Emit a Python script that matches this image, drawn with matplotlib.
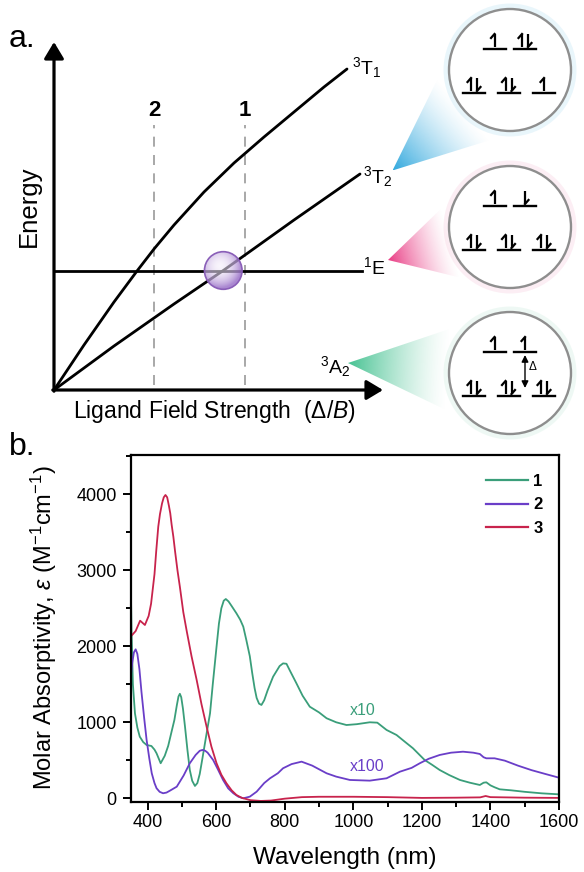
import numpy as np
import matplotlib
matplotlib.use('Agg')
import matplotlib.pyplot as plt
from matplotlib.patches import Circle, Polygon
from matplotlib.ticker import MultipleLocator
from matplotlib.colors import to_rgb

plt.rcParams['font.family'] = ['Liberation Sans', 'DejaVu Sans']
plt.rcParams['mathtext.fontset'] = 'custom'
plt.rcParams['mathtext.rm'] = 'Liberation Sans'
plt.rcParams['mathtext.it'] = 'Liberation Sans:italic'
plt.rcParams['mathtext.bf'] = 'Liberation Sans:bold'

# ---------------- data: Tanabe-Sugano style schematic (panel a) ----------------
t1_x = [0, 30, 60, 83, 100, 120, 150, 180, 210, 240, 270, 293]
t1_y = [0, 45, 88, 119, 141, 165, 198, 227, 253, 278, 303, 321]
t2_x = [0, 60, 120, 170, 240, 306]
t2_y = [0, 44, 86, 120, 170, 216]
e_level = 119.5
e_xmax = 308
complex_x = [191, 100]
complex_labels = ['1', '2']

# ---------------- data: absorption spectra (panel b) ----------------
wl1 = [350, 353, 357, 363, 370, 377, 387, 397, 411, 420, 426, 438, 450, 460, 470,
       478, 485, 490, 494, 498, 503, 509, 516, 523, 530, 538, 545, 552, 560, 570,
       582, 590, 601, 608, 615, 622, 628, 636, 645, 659, 670, 679, 688, 698, 705,
       712, 718, 725, 732, 740, 750, 766, 785, 795, 805, 815, 834, 852, 873, 900,
       922, 950, 980, 1010, 1048, 1070, 1097, 1126, 1150, 1174, 1208, 1230, 1252, 1280,
       1311, 1340, 1369, 1380, 1388, 1400, 1412, 1427, 1460, 1500, 1550, 1600]
eps1 = [3050, 2200, 1500, 1118, 930, 811, 740, 701, 688, 640, 592, 461, 560, 690, 880,
        1030, 1220, 1340, 1375, 1330, 1180, 942, 640, 372, 230, 162, 200, 320, 530, 800,
        1118, 1500, 1995, 2300, 2500, 2600, 2622, 2590, 2530, 2434, 2350, 2258, 2080, 1870, 1650,
        1450, 1320, 1245, 1228, 1290, 1420, 1600, 1740, 1775, 1770, 1680, 1513, 1350, 1205, 1130,
        1053, 1000, 964, 975, 1000, 995, 899, 833, 745, 658, 504, 440, 372, 305,
        241, 205, 175, 205, 210, 170, 145, 118, 105, 85, 65, 52]

wl2 = [350, 355, 360, 365, 370, 376, 382, 390, 397, 405, 412, 420, 426, 435, 445,
       455, 465, 485, 505, 523, 540, 552, 560, 568, 575, 591, 605, 620, 635, 650,
       665, 679, 698, 718, 740, 757, 780, 795, 820, 849, 880, 922, 950, 990, 1048,
       1097, 1136, 1170, 1194, 1220, 1252, 1285, 1320, 1350, 1369, 1380, 1388, 1412, 1442,
       1480, 1520, 1560, 1600]
eps2 = [1557, 1780, 1920, 1960, 1900, 1700, 1400, 1050, 767, 520, 329, 200, 132, 85, 66,
        75, 100, 153, 300, 461, 570, 625, 636, 625, 600, 504, 380, 241, 130, 66,
        20, 0, 21, 87, 200, 263, 330, 395, 450, 482, 430, 329, 285, 241, 232,
        263, 350, 400, 461, 520, 570, 600, 613, 600, 583, 540, 526, 526, 495,
        430, 370, 320, 271]

wl3 = [353, 365, 378, 392, 403, 410, 420, 425, 431, 436, 442, 447, 452, 457, 462,
       466, 470, 475, 480, 487, 494, 504, 514, 528, 543, 557, 572, 586, 601, 615,
       630, 645, 659, 675, 700, 730, 760, 800, 850, 900, 1000, 1100, 1200, 1300,
       1370, 1386, 1400, 1500, 1600]
eps3 = [2140, 2200, 2337, 2280, 2400, 2560, 2950, 3250, 3574, 3740, 3880, 3960, 3991, 3960, 3850,
        3750, 3600, 3442, 3250, 3000, 2784, 2450, 2200, 1870, 1557, 1240, 942, 680, 461, 310,
        197, 105, 43, 5, -25, -35, -30, -5, 15, 20, 20, 15, 5, 8,
        12, 30, 15, 8, 5]

series_labels = ['1', '2', '3']
series_colors = ['#3a9e7a', '#6a3ec8', '#c8234c']
x_ticks = [400, 600, 800, 1000, 1200, 1400, 1600]
y_ticks = [0, 1000, 2000, 3000, 4000]

W, H = 584, 872
fig = plt.figure(figsize=(W / 100, H / 100), dpi=100)


def fx(px):
    return px / W


def fy(py):
    return 1 - py / H


# ---------------- overlay (pixel coordinates) for the orbital insets ----------------
ov = fig.add_axes([0, 0, 1, 1])
ov.set_autoscale_on(False)
ov.set_xlim(0, W)
ov.set_ylim(H, 0)
ov.axis('off')


def rot(vec, ang):
    return np.array([vec[0] * np.cos(ang) - vec[1] * np.sin(ang),
                     vec[0] * np.sin(ang) + vec[1] * np.cos(ang)])


def cone(tip, c, r, color):
    tip = np.array(tip, float)
    c = np.array(c, float)
    v = c - tip
    dist = np.hypot(*v)
    u = v / dist
    a = np.arcsin(r / dist)
    L = np.sqrt(dist ** 2 - r ** 2)
    T1 = tip + L * rot(u, a)
    T2 = tip + L * rot(u, -a)
    poly = np.array([tip, T1, c, T2])
    x0, y0 = poly.min(0)
    x1, y1 = poly.max(0)
    n = 240
    xs = np.linspace(x0, x1, n)
    ys = np.linspace(y0, y1, n)
    X, Y = np.meshgrid(xs, ys)
    t = ((X - tip[0]) * u[0] + (Y - tip[1]) * u[1]) / (dist - r)
    alpha = np.clip(1 - t, 0, 1) ** 1.4 * 0.95
    img = np.zeros((n, n, 4))
    img[..., :3] = to_rgb(color)
    img[..., 3] = alpha
    im = ov.imshow(img, extent=(x0, x1, y0, y1), origin='lower', aspect='auto',
                   interpolation='bilinear', zorder=1)
    patch = Polygon(poly, closed=True, transform=ov.transData)
    im.set_clip_path(patch)


circ_centers = [(510, 70), (510, 227), (510, 373)]
circ_r = 61
cone_tips = [(392.5, 170.5), (388, 260), (348, 363)]
cone_colors = ['#27a4dc', '#e8327e', '#3cbf8c']
glow_colors = ['#9fd6ef', '#f3b3cd', '#b5e3cf']
configs = [(['u', 'ud'], ['ud', 'ud', 'u']),
           (['u', 'd'], ['ud', 'ud', 'ud']),
           (['u', 'u'], ['ud', 'ud', 'ud'])]

for tip, c, col in zip(cone_tips, circ_centers, cone_colors):
    cone(tip, c, circ_r, col)


def electron(x, yb, kind):
    lw = 1.6
    if kind == 'u':
        ov.plot([x, x], [yb - 2, yb - 15], color='k', lw=lw, zorder=5, solid_capstyle='butt')
        ov.plot([x, x - 3.5], [yb - 15, yb - 11], color='k', lw=lw, zorder=5)
    elif kind == 'd':
        ov.plot([x, x], [yb - 15, yb - 2], color='k', lw=lw, zorder=5, solid_capstyle='butt')
        ov.plot([x, x + 3.5], [yb - 2, yb - 6], color='k', lw=lw, zorder=5)
    else:
        electron(x - 3, yb, 'u')
        electron(x + 3, yb, 'd')


top_dx = [-15.5, 15]
bot_dx = [-36, -1.5, 34]
for c, glow, (top, bot) in zip(circ_centers, glow_colors, configs):
    ov.add_patch(Circle(c, circ_r + 2, fc='none', ec=glow, lw=5, alpha=0.22, zorder=2))
    ov.add_patch(Circle(c, circ_r, fc='white', ec='#8e8e8e', lw=1.7, zorder=3))
    for dx, k in zip(top_dx, top):
        x = c[0] + dx
        yb = c[1] - 21
        ov.plot([x - 11, x + 11], [yb, yb], color='k', lw=1.7, zorder=5)
        electron(x, yb, k)
    for dx, k in zip(bot_dx, bot):
        x = c[0] + dx
        yb = c[1] + 23
        ov.plot([x - 11, x + 11], [yb, yb], color='k', lw=1.7, zorder=5)
        electron(x, yb, k)

# Delta arrow in the 3A2 inset
c3 = circ_centers[2]
ov.annotate('', xy=(c3[0] + 15, c3[1] - 18), xytext=(c3[0] + 15, c3[1] + 15),
            arrowprops=dict(arrowstyle='<|-|>,head_length=0.5,head_width=0.25', lw=1.0,
                            color='k', shrinkA=0, shrinkB=0, mutation_scale=8), zorder=6)
ov.text(c3[0] + 19, c3[1] - 6, 'Δ', fontsize=8.5, ha='left', va='center', zorder=6)

# ---------------- panel a diagram ----------------
ax_a = fig.add_axes([fx(54), fy(390), 329 / W, 348 / H])
ax_a.set_xlim(0, 329)
ax_a.set_ylim(0, 348)
ax_a.axis('off')
ax_a.patch.set_alpha(0)

arrow_kw = dict(arrowstyle='-|>,head_length=0.5,head_width=0.3', lw=2.3, color='k',
                shrinkA=0, shrinkB=0, mutation_scale=20)
ax_a.annotate('', xy=(329, 0), xytext=(-1.2, 0), arrowprops=arrow_kw, annotation_clip=False)
ax_a.annotate('', xy=(0, 348), xytext=(0, -1.2), arrowprops=arrow_kw, annotation_clip=False)

ax_a.plot(t1_x, t1_y, color='k', lw=2.0, solid_capstyle='round', solid_joinstyle='round', zorder=3)
ax_a.plot(t2_x, t2_y, color='k', lw=2.0, solid_capstyle='round', solid_joinstyle='round', zorder=3)
ax_a.plot([0, e_xmax], [e_level, e_level], color='k', lw=2.0, zorder=3)

for xc, lab in zip(complex_x, complex_labels):
    ax_a.plot([xc, xc], [5, 265], color='#9a9a9a', lw=1.2, ls=(0, (6, 5)), zorder=2)
    ax_a.text(xc, 280, lab, fontsize=16, fontweight='bold', ha='center', va='center')

# crossing marker (purple sphere)
xc_cross = float(np.interp(e_level, t2_y, t2_x))
rr = 18.8
n = 120
gx = np.linspace(xc_cross - rr, xc_cross + rr, n)
gy = np.linspace(e_level - rr, e_level + rr, n)
GX, GY = np.meshgrid(gx, gy)
dist = np.hypot(GX - (xc_cross - 3), GY - (e_level + 4)) / (rr * 1.15)
c_in = np.array(to_rgb('#f4eefa'))
c_out = np.array(to_rgb('#9b72c9'))
d = np.clip(dist, 0, 1)[..., None] ** 1.6
img = np.zeros((n, n, 4))
img[..., :3] = c_in * (1 - d) + c_out * d
img[..., 3] = 0.55 + 0.3 * d[..., 0]
im = ax_a.imshow(img, extent=(gx[0], gx[-1], gy[0], gy[-1]), origin='lower', aspect='auto',
                 interpolation='bilinear', zorder=4)
cp = Circle((xc_cross, e_level), rr, transform=ax_a.transData, fc='none')
im.set_clip_path(cp)
ax_a.add_patch(Circle((xc_cross, e_level), rr, fc='none', ec='#8a5fb8', lw=1.2, zorder=5))
ax_a.set_xlim(0, 329)
ax_a.set_ylim(0, 348)

ax_a.text(298, 322, r'$^{3}$T$_{1}$', fontsize=14, ha='left', va='center')
ax_a.text(309, 213, r'$^{3}$T$_{2}$', fontsize=14, ha='left', va='center')
ax_a.text(309, 123, r'$^{1}$E', fontsize=14, ha='left', va='center')
ax_a.text(266, 23, r'$^{3}$A$_{2}$', fontsize=14, ha='left', va='center')

fig.text(fx(29), fy(206), 'Energy', rotation=90, fontsize=18.5, ha='center', va='center')
fig.text(fx(214), fy(411), r'Ligand Field Strength  ($\Delta$/$\mathit{B}$)', fontsize=16.5,
         ha='center', va='center')
fig.text(fx(9), fy(47), 'a.', fontsize=23, ha='left', va='baseline')
fig.text(fx(9), fy(455), 'b.', fontsize=23, ha='left', va='baseline')

# ---------------- panel b spectra ----------------
ax_b = fig.add_axes([fx(130.5), fy(801.7), 428.5 / W, 346.7 / H])
for wl, ep, lab, col in zip([wl1, wl2, wl3], [eps1, eps2, eps3], series_labels, series_colors):
    ax_b.plot(wl, ep, color=col, lw=1.3, label=lab, solid_joinstyle='round')
ax_b.set_xlim(350, 1600)
ax_b.set_ylim(-45, 4517)
ax_b.set_xticks(x_ticks)
ax_b.set_yticks(y_ticks)
ax_b.xaxis.set_minor_locator(MultipleLocator(100))
ax_b.yaxis.set_minor_locator(MultipleLocator(500))
ax_b.tick_params(which='both', direction='out', top=False, right=False, width=1.4, labelsize=13)
ax_b.tick_params(which='major', length=6)
ax_b.tick_params(which='minor', length=3.8)
ax_b.tick_params(axis='x', pad=3)
ax_b.tick_params(axis='y', pad=4)
for s in ax_b.spines.values():
    s.set_linewidth(1.6)

ax_b.text(990, 1150, 'x10', color=series_colors[0], fontsize=11.5, ha='left', va='center')
ax_b.text(990, 412, 'x100', color=series_colors[1], fontsize=11.5, ha='left', va='center')

leg = ax_b.legend(loc='upper right', bbox_to_anchor=(0.962, 0.945), frameon=False,
                  handlelength=2.5, handletextpad=0.35, labelspacing=0.5, borderaxespad=0,
                  borderpad=0, prop={'weight': 'bold', 'size': 12})
for h in leg.get_lines():
    h.set_linewidth(1.6)

fig.text(fx(44), fy(628), r'Molar Absorptivity, $\mathit{\varepsilon}$ (M$^{-1}$cm$^{-1}$)',
         rotation=90, fontsize=17, ha='center', va='center')
fig.text(fx(345), fy(858), 'Wavelength (nm)', fontsize=17.5, ha='center', va='center')

fig.savefig('out.png', dpi=100)
